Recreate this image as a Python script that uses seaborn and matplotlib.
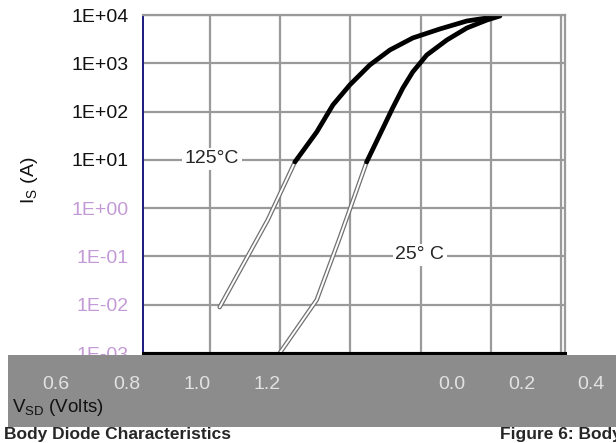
import numpy as np
import pandas as pd
import matplotlib
matplotlib.use("Agg")
import matplotlib.pyplot as plt
import seaborn as sns

# Body diode forward characteristic
v_125 = [1.028, 1.165, 1.242, 1.304, 1.350, 1.398, 1.455, 1.512, 1.577,
         1.654, 1.731, 1.805, 1.825]
i_125 = [0.0089, 0.575, 9.06, 37.8, 137, 356, 923, 1884, 3342,
         5130, 7516, 9100, 10000]
v_25 = [1.199, 1.304, 1.370, 1.446, 1.483, 1.520, 1.549, 1.577, 1.617,
        1.674, 1.731, 1.788, 1.825]
i_25 = [0.001, 0.0126, 0.25, 9.06, 32.8, 119, 308, 661, 1486,
        3034, 5383, 7870, 9530]

y_ticks = [1e-3, 1e-2, 1e-1, 1e0, 1e1, 1e2, 1e3, 1e4]
y_labels = ["1E-03", "1E-02", "1E-01", "1E+00", "1E+01", "1E+02", "1E+03", "1E+04"]
grid_v = [1.0, 1.2, 1.4, 1.6, 1.8, 2.0]
x_ticks = [0.6, 0.8, 1.0, 1.2]
x_labels = ["0.6", "0.8", "1.0", "1.2"]
x2_ticks = [0.0, 0.2, 0.4]
x2_labels = ["0.0", "0.2", "0.4"]

sns.set_style("white")
plt.rcParams["font.family"] = ["Liberation Sans", "DejaVu Sans"]

W, H = 616, 443


def rect(x0, y0, x1, y1):
    return [x0 / W, 1 - y1 / H, (x1 - x0) / W, (y1 - y0) / H]


fig = plt.figure(figsize=(6.16, 4.43), dpi=100)

# main chart
ax = fig.add_axes(rect(143, 15, 565, 353))
ax.set_yscale("log")
ax.set_ylim(1e-3, 1e4)
ax.set_xlim(0.81, 2.01)
ax.set_yticks(y_ticks)
ax.set_yticklabels(y_labels)
ax.yaxis.set_minor_locator(matplotlib.ticker.NullLocator())
ax.set_xticks(grid_v)
ax.set_xticklabels([])
ax.tick_params(length=0, labelsize=14, pad=10)
ax.grid(True, color="#9a9a9a", lw=1.6)
for lab, c in zip(ax.get_yticklabels(), ["#c49ad6"] * 4 + ["#111111"] * 4):
    lab.set_color(c)
for s in ["top", "right"]:
    ax.spines[s].set_color("#9a9a9a")
    ax.spines[s].set_linewidth(1.6)
ax.spines["left"].set_color("#1a1a80")
ax.spines["left"].set_linewidth(1.4)
ax.spines["bottom"].set_color("black")
ax.spines["bottom"].set_linewidth(2.2)

# thin hollow part below 10 A, heavy black part above
for v, i in [(v_125, i_125), (v_25, i_25)]:
    df = pd.DataFrame({"v": v, "i": i})
    up = df[df["i"] >= 9]
    low = df[df["i"] <= 9.1]
    sns.lineplot(data=low, x="v", y="i", ax=ax, color="#707070", lw=3.2,
                 estimator=None, sort=False)
    sns.lineplot(data=low, x="v", y="i", ax=ax, color="white", lw=1.4,
                 estimator=None, sort=False)
    sns.lineplot(data=up, x="v", y="i", ax=ax, color="black", lw=3.4,
                 estimator=None, sort=False)
ax.set_xlabel("")
ax.set_ylabel("")

box = dict(facecolor="white", edgecolor="none", pad=2)
ax.text(0.1635, 0.574, "125\u00b0C", transform=ax.transAxes, fontsize=14,
        ha="center", va="center", bbox=box)
ax.text(0.656, 0.29, "25\u00b0 C", transform=ax.transAxes, fontsize=14,
        ha="center", va="center", bbox=box)

# grey strip with the axis numbers
band = fig.add_axes(rect(8, 355, 616, 427))
band.set_facecolor("#8c8c8c")
band.set_xlim(0.4635, 2.192)
band.set_xticks(x_ticks)
band.set_xticklabels(x_labels)
band.set_yticks([])
band.tick_params(axis="x", length=0, pad=-37, labelsize=14, labelcolor="#e2e2e2")
for s in band.spines.values():
    s.set_visible(False)

band2 = fig.add_axes(rect(8, 355, 616, 427), label="band2")
band2.patch.set_alpha(0)
band2.set_xlim(-1.278, 0.472)
band2.set_xticks(x2_ticks)
band2.set_xticklabels(x2_labels)
band2.set_yticks([])
band2.tick_params(axis="x", length=0, pad=-37, labelsize=14, labelcolor="#e2e2e2")
for s in band2.spines.values():
    s.set_visible(False)

fig.text(12 / W, 1 - 408 / H, r"V$_{\mathregular{SD}}$ (Volts)", fontsize=13.5,
         va="center", color="#111111")
fig.text(30 / W, 1 - 180 / H, r"I$_{\mathregular{S}}$ (A)", fontsize=14,
         rotation=90, ha="center", va="center", color="#111111")

fig.text(4 / W, 1 - 435 / H, "Body Diode Characteristics", fontsize=12.5,
         weight="bold", va="center", zorder=-1)
fig.text(500 / W, 1 - 435 / H, "Figure 6: Body Diode Characteristics",
         fontsize=12.5, weight="bold", va="center", zorder=-1)

fig.savefig("out.png", dpi=100)
